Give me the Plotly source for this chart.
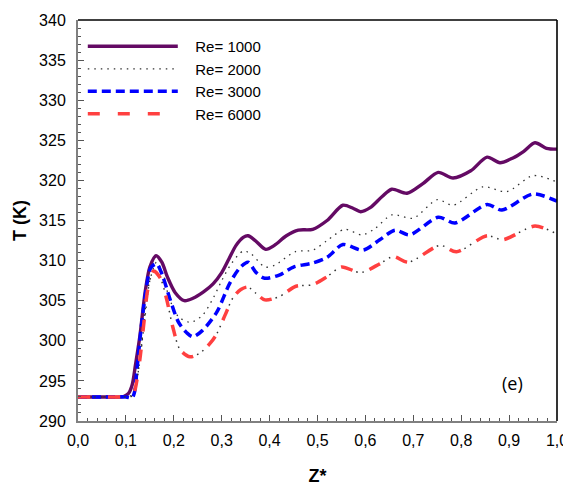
import plotly.graph_objects as go

# ---- data ----
z_1000 = [0.0, 0.05, 0.095, 0.105, 0.113, 0.12, 0.129, 0.14, 0.15, 0.163, 0.175, 0.187, 0.203, 0.222, 0.24, 0.262,
          0.282, 0.30, 0.315, 0.33, 0.345, 0.355, 0.37, 0.392, 0.41, 0.435, 0.46, 0.49, 0.52, 0.553, 0.575, 0.59,
          0.61, 0.635, 0.655, 0.687, 0.72, 0.752, 0.783, 0.82, 0.854, 0.881, 0.908, 0.93, 0.954, 0.978, 1.0]
T_1000 = [293.0, 293.0, 293.05, 293.4, 294.5, 297.0, 300.5, 306.0, 309.2, 310.6, 309.8, 307.9, 306.0, 305.0, 305.3, 306.1,
          307.1, 308.5, 310.2, 311.9, 312.9, 313.1, 312.5, 311.4, 311.9, 313.1, 313.8, 313.9, 315.0, 316.9, 316.5, 316.1,
          316.6, 318.0, 318.9, 318.4, 319.6, 321.0, 320.3, 321.2, 322.9, 322.2, 322.8, 323.6, 324.7, 324.0, 323.9]

z_2000 = [0.0, 0.05, 0.10, 0.112, 0.12, 0.13, 0.14, 0.15, 0.164, 0.177, 0.19, 0.21, 0.235, 0.26, 0.282, 0.30,
          0.32, 0.345, 0.362, 0.39, 0.41, 0.453, 0.49, 0.52, 0.557, 0.593, 0.62, 0.655, 0.70, 0.75, 0.783,
          0.845, 0.895, 0.95, 1.0]
T_2000 = [293.0, 293.0, 293.0, 293.2, 294.2, 298.0, 303.0, 307.5, 309.8, 308.5, 305.4, 303.0, 302.3, 303.2, 305.3, 307.5,
          309.6, 311.2, 310.8, 309.2, 309.4, 311.1, 311.3, 312.5, 313.9, 313.2, 314.0, 315.7, 315.3, 317.6, 316.9,
          319.2, 318.6, 320.6, 319.8]

z_3000 = [0.0, 0.05, 0.10, 0.113, 0.118, 0.123, 0.133, 0.143, 0.152, 0.164, 0.176, 0.192, 0.21, 0.227, 0.24, 0.26,
          0.29, 0.317, 0.338, 0.355, 0.372, 0.39, 0.42, 0.45, 0.49, 0.52, 0.553, 0.595, 0.63, 0.662, 0.692,
          0.752, 0.787, 0.854, 0.885, 0.95, 1.0]
T_3000 = [293.0, 293.0, 293.0, 292.9, 293.6, 296.4, 302.2, 306.7, 309.1, 309.6, 308.2, 305.2, 302.3, 301.0, 300.5, 301.3,
          303.6, 307.2, 309.1, 309.8, 308.5, 307.8, 308.2, 309.2, 309.7, 310.4, 312.0, 311.3, 312.6, 313.8, 313.2,
          315.4, 314.7, 317.0, 316.3, 318.3, 317.4]

z_6000 = [0.0, 0.05, 0.105, 0.113, 0.119, 0.129, 0.138, 0.146, 0.158, 0.172, 0.185, 0.198, 0.213, 0.234, 0.255, 0.276,
          0.29, 0.307, 0.324, 0.34, 0.355, 0.372, 0.39, 0.42, 0.455, 0.49, 0.52, 0.55, 0.59, 0.63, 0.658, 0.69,
          0.756, 0.79, 0.854, 0.887, 0.954, 1.0]
T_6000 = [293.0, 293.0, 293.0, 293.1, 293.9, 297.6, 302.5, 306.5, 308.7, 307.8, 305.2, 301.7, 298.9, 298.0, 298.5, 299.7,
          300.9, 303.2, 305.4, 306.4, 306.7, 305.9, 305.1, 305.5, 306.8, 307.0, 308.0, 309.2, 308.5, 309.6, 310.5, 309.8,
          311.9, 311.1, 313.1, 312.6, 314.3, 313.3]

labels = ["Re= 1000", "Re= 2000", "Re= 3000", "Re= 6000"]
x_ticks = [0.0, 0.1, 0.2, 0.3, 0.4, 0.5, 0.6, 0.7, 0.8, 0.9, 1.0]
x_ticktext = ["0,0", "0,1", "0,2", "0,3", "0,4", "0,5", "0,6", "0,7", "0,8", "0,9", "1,0"]
y_ticks = [290, 295, 300, 305, 310, 315, 320, 325, 330, 335, 340]

FONT = "Liberation Sans, Arial, sans-serif"
PAD = "\u00a0\u00a0\u00a0"

fig = go.Figure()
fig.add_trace(go.Scatter(x=z_1000, y=T_1000, mode="lines", name=PAD + labels[0],
                         line=dict(color="#640a64", width=3.4, shape="spline", smoothing=0.8)))
fig.add_trace(go.Scatter(x=z_2000, y=T_2000, mode="lines", name=PAD + labels[1],
                         line=dict(color="#333333", width=1.3, dash="1.5px,5px", shape="spline", smoothing=0.8)))
fig.add_trace(go.Scatter(x=z_3000, y=T_3000, mode="lines", name=PAD + labels[2],
                         line=dict(color="#0000ff", width=3.5, dash="9px,5px", shape="spline", smoothing=0.8)))
fig.add_trace(go.Scatter(x=z_6000, y=T_6000, mode="lines", name=PAD + labels[3],
                         line=dict(color="#ff4040", width=3.5, dash="12px,18px", shape="spline", smoothing=0.8)))
fig.add_trace(go.Scatter(x=z_6000, y=T_6000, mode="lines", showlegend=False, hoverinfo="skip",
                         line=dict(color="#333333", width=1.5, dash="0px,16px,1.5px,5px,1.5px,6px",
                                   shape="spline", smoothing=0.8)))

# The page body has an 8px default margin, so the figure is sized to fit the window.
fig.update_layout(
    width=563, height=485,
    margin=dict(l=70, r=14, t=12, b=72),
    paper_bgcolor="white", plot_bgcolor="white",
    font=dict(family=FONT, size=16, color="#000000"),
    showlegend=True,
    legend=dict(x=0.010, y=0.975, xanchor="left", yanchor="top", bgcolor="rgba(0,0,0,0)",
                itemwidth=90, font=dict(size=15, family=FONT), tracegroupgap=0),
    annotations=[dict(x=0.908, y=294.7, xref="x", yref="y", text="(e)", showarrow=False,
                      font=dict(size=18, family="Open Sans, sans-serif", color="#000"))],
    shapes=[
        dict(type="line", xref="paper", yref="paper", x0=0, x1=1, y0=1, y1=1,
             line=dict(color="#000", width=1.3)),
        dict(type="line", xref="paper", yref="paper", x0=1, x1=1, y0=0, y1=1,
             line=dict(color="#000", width=1.6)),
    ],
)

fig.update_xaxes(
    range=[0, 1], tickvals=x_ticks, ticktext=x_ticktext, automargin=False,
    showgrid=False, zeroline=False, showline=True, linecolor="#808080", linewidth=2,
    ticks="inside", ticklen=6, tickwidth=1.2, tickcolor="#555555", ticklabelstandoff=4,
    ticklabeloverflow="allow",
    minor=dict(dtick=0.02, ticks="inside", ticklen=3, tickwidth=1, tickcolor="#555555", showgrid=False),
    title=dict(text="<b>Z*</b>", font=dict(size=18, family=FONT), standoff=21),
    tickfont=dict(size=16, family=FONT),
)
fig.update_yaxes(
    range=[290, 340], tickvals=y_ticks, automargin=False,
    showgrid=False, zeroline=False, showline=True, linecolor="#808080", linewidth=2,
    ticks="inside", ticklen=6, tickwidth=1.2, tickcolor="#555555", ticklabelstandoff=7,
    minor=dict(dtick=1, ticks="inside", ticklen=3, tickwidth=1, tickcolor="#555555", showgrid=False),
    title=dict(text="<b>T (K)</b>", font=dict(size=18, family=FONT), standoff=8),
    tickfont=dict(size=16, family=FONT),
)

fig.write_html("out.html")
